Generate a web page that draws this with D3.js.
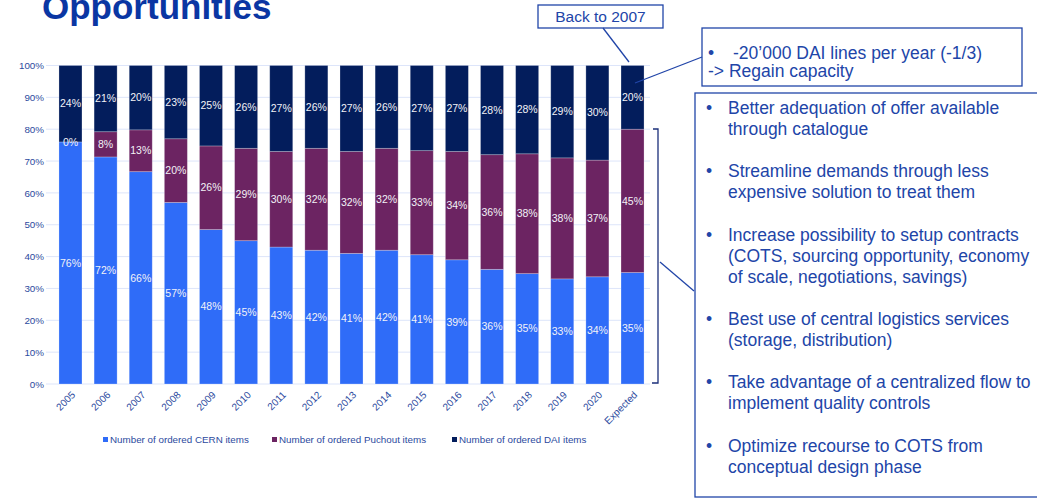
<!DOCTYPE html>
<html>
<head>
<meta charset="utf-8">
<script src="https://cdn.jsdelivr.net/npm/d3@7"></script>
<style>
  html, body { margin: 0; padding: 0; background: #fff; }
  svg { display: block; font-family: "Liberation Sans", Arial, sans-serif; }
</style>
</head>
<body>
<div id="chart"></div>
<script>
// chart data
const years = ["2005", "2006", "2007", "2008", "2009", "2010", "2011", "2012", "2013",
  "2014", "2015", "2016", "2017", "2018", "2019", "2020", "Expected"];
const cernItems     = [76, 72, 66, 57, 48, 45, 43, 42, 41, 42, 41, 39, 36, 35, 33, 34, 35];
const puchoutItems  = [0, 8, 13, 20, 26, 29, 30, 32, 32, 32, 33, 34, 36, 38, 38, 37, 45];
const daiItems      = [24, 21, 20, 23, 25, 26, 27, 26, 27, 26, 27, 27, 28, 28, 29, 30, 20];
const seriesNames = ["Number of ordered CERN items", "Number of ordered Puchout items", "Number of ordered DAI items"];
const yTicks = [0, 0.1, 0.2, 0.3, 0.4, 0.5, 0.6, 0.7, 0.8, 0.9, 1];

const bullets = [
  ["Better adequation of offer available", "through catalogue"],
  ["Streamline demands through less", "expensive solution to treat them"],
  ["Increase possibility to setup contracts", "(COTS, sourcing opportunity, economy", "of scale, negotiations, savings)"],
  ["Best use of central logistics services", "(storage, distribution)"],
  ["Take advantage of a centralized flow to", "implement quality controls"],
  ["Optimize recourse to COTS from", "conceptual design phase"]
];

const colors = ["#2f6cf8", "#6c2462", "#031d5c"];
const textBlue = "#2c4a9e";
const boxBlue = "#2145a8";

const W = 1037, H = 498;
const svg = d3.select("#chart").append("svg").attr("width", W).attr("height", H);

// title (cut at the top like in the slide)
svg.append("text")
  .attr("x", 42).attr("y", 19)
  .attr("font-size", 35).attr("font-weight", "bold")
  .attr("fill", "#0a36a3")
  .text("Opportunities");

const rows = years.map((y, i) => ({year: y, cern: cernItems[i], puch: puchoutItems[i], dai: daiItems[i]}));
const keys = ["cern", "puch", "dai"];
const stacked = d3.stack().keys(keys).offset(d3.stackOffsetExpand)(rows);

const x = d3.scaleBand().domain(years).range([53, 650]).paddingInner(0.345).paddingOuter(0.17);
const y = d3.scaleLinear().domain([0, 1]).range([384, 65.5]);

// grid
svg.append("g").selectAll("line").data(yTicks).join("line")
  .attr("x1", 46).attr("x2", 650)
  .attr("y1", d => y(d)).attr("y2", d => y(d))
  .attr("stroke", "#dde5fa").attr("stroke-width", 1);

// y axis labels
const yAxis = svg.append("g").attr("transform", "translate(45,0)")
  .call(d3.axisLeft(y).tickValues(yTicks).tickFormat(d3.format(".0%")).tickSize(0).tickPadding(1));
yAxis.select(".domain").remove();
yAxis.selectAll("text").attr("font-size", 9.8).attr("fill", textBlue).attr("font-family", "Liberation Sans, Arial, sans-serif");

// bars
const layers = svg.append("g").selectAll("g").data(stacked).join("g")
  .attr("fill", (d, i) => colors[i]);
layers.selectAll("rect").data(d => d).join("rect")
  .attr("x", d => x(d.data.year))
  .attr("width", x.bandwidth())
  .attr("y", d => y(d[1]))
  .attr("height", d => y(d[0]) - y(d[1]))
  .attr("stroke", "#ffffff").attr("stroke-opacity", 0.3).attr("stroke-width", 0.8);

// value labels
stacked.forEach((layer, li) => {
  svg.append("g").selectAll("text").data(layer).join("text")
    .attr("x", d => x(d.data.year) + x.bandwidth() / 2)
    .attr("y", d => y((d[0] + d[1]) / 2))
    .attr("dy", "0.35em")
    .attr("text-anchor", "middle")
    .attr("font-size", 10.5)
    .attr("fill", "#f2f2f7")
    .text(d => d.data[keys[li]] + "%");
});

// x axis labels, rotated
svg.append("g").selectAll("text").data(years).join("text")
  .attr("transform", d => `translate(${x(d) + x.bandwidth() / 2 + 3},${393}) rotate(-45)`)
  .attr("text-anchor", "end")
  .attr("dy", "0.35em")
  .attr("font-size", 10)
  .attr("fill", textBlue)
  .text(d => d);

// legend
const legendX = [103, 272, 452];
const legend = svg.append("g").selectAll("g").data(seriesNames).join("g")
  .attr("transform", (d, i) => `translate(${legendX[i]},440)`);
legend.append("rect").attr("x", 0).attr("y", -3).attr("width", 5).attr("height", 5)
  .attr("fill", (d, i) => colors[i]);
legend.append("text").attr("x", 7).attr("y", 0).attr("dy", "0.35em")
  .attr("font-size", 9.8).attr("fill", textBlue).text(d => d);

// "Back to 2007" callout
svg.append("rect").attr("x", 538).attr("y", 5).attr("width", 125).attr("height", 23)
  .attr("fill", "#fff").attr("stroke", boxBlue).attr("stroke-width", 1.3);
svg.append("text").attr("x", 600.5).attr("y", 22).attr("text-anchor", "middle")
  .attr("font-size", 15.5).attr("fill", boxBlue).text("Back to 2007");
svg.append("line").attr("x1", 603).attr("y1", 28).attr("x2", 629).attr("y2", 62)
  .attr("stroke", boxBlue).attr("stroke-width", 1.3);

// DAI lines callout
svg.append("rect").attr("x", 702).attr("y", 28).attr("width", 320).attr("height", 58)
  .attr("fill", "#fff").attr("stroke", boxBlue).attr("stroke-width", 1.3);
svg.append("line").attr("x1", 702).attr("y1", 57).attr("x2", 635).attr("y2", 83)
  .attr("stroke", boxBlue).attr("stroke-width", 1.3);
svg.append("text").attr("x", 708).attr("y", 59).attr("font-size", 17.5).attr("fill", boxBlue).text("•");
svg.append("text").attr("x", 733).attr("y", 59).attr("font-size", 17.5).attr("fill", boxBlue).text("-20’000 DAI lines per year (-1/3)");
svg.append("text").attr("x", 708).attr("y", 77).attr("font-size", 17.5).attr("fill", boxBlue).text("-> Regain capacity");

// bracket on the expected bar
svg.append("path")
  .attr("d", "M653,129 H658 V383 H652")
  .attr("fill", "none").attr("stroke", "#1b2f7a").attr("stroke-width", 1.3);
svg.append("line").attr("x1", 660).attr("y1", 262).attr("x2", 694).attr("y2", 291)
  .attr("stroke", boxBlue).attr("stroke-width", 1.3);

// benefits box
svg.append("rect").attr("x", 695).attr("y", 93).attr("width", 360).attr("height", 404)
  .attr("fill", "#fff").attr("stroke", boxBlue).attr("stroke-width", 1.3);
let lineY = 114;
bullets.forEach(lines => {
  svg.append("text").attr("x", 706).attr("y", lineY).attr("font-size", 17.5).attr("fill", boxBlue).text("•");
  lines.forEach(t => {
    svg.append("text").attr("x", 728).attr("y", lineY).attr("font-size", 17.5).attr("fill", boxBlue).text(t);
    lineY += 21.1;
  });
  lineY += 21.1;
});
</script>
</body>
</html>
